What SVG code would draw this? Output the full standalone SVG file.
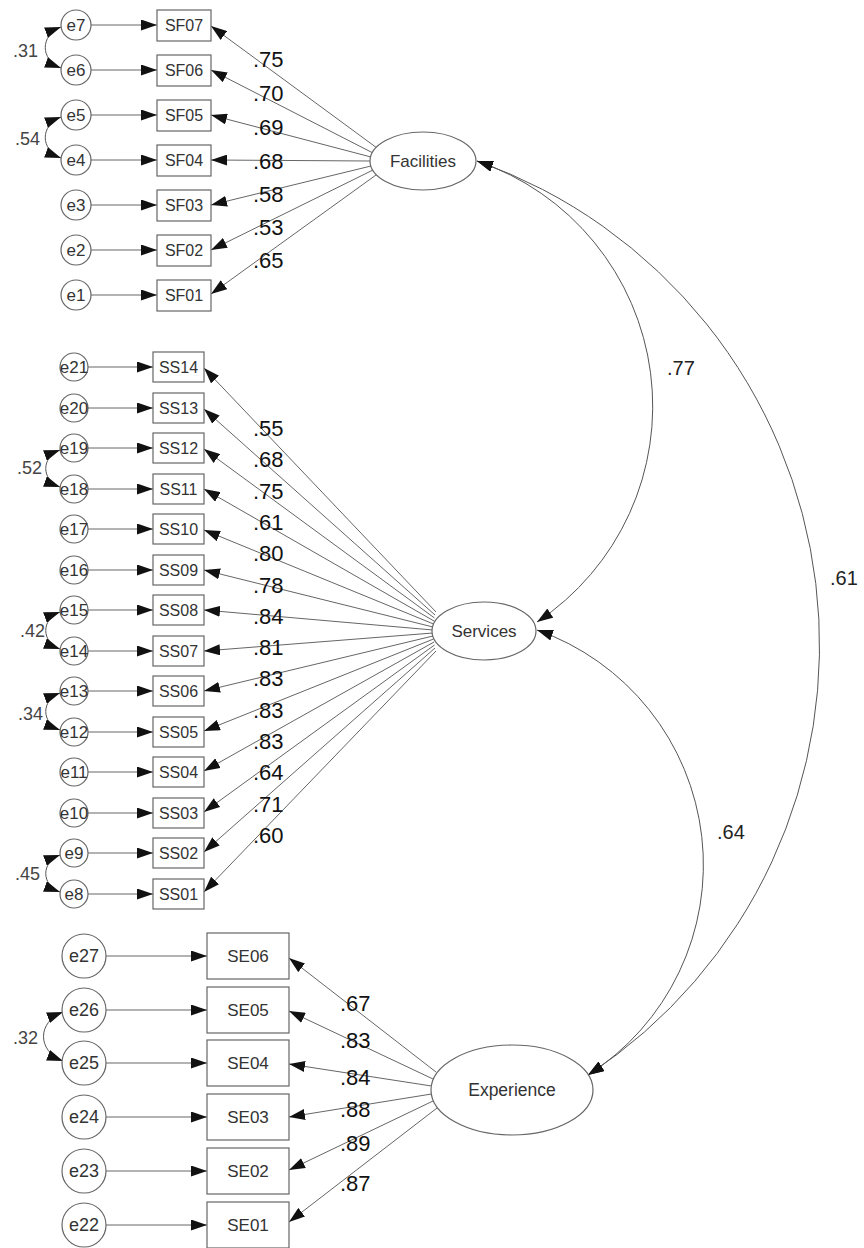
<svg xmlns="http://www.w3.org/2000/svg" width="864" height="1248" viewBox="0 0 864 1248">
<defs>
<marker id="ah" viewBox="0 0 16 11" refX="16" refY="5.5" markerWidth="16" markerHeight="11" markerUnits="userSpaceOnUse" orient="auto-start-reverse"><path d="M0,0 L16,5.5 L0,11 z" fill="#111"/></marker>
</defs>
<style>
.s{fill:#fff;stroke:#666;stroke-width:1.2}
.c{fill:none;stroke:#666;stroke-width:1}
.a{fill:none;stroke:#666;stroke-width:1;marker-end:url(#ah)}
.d{fill:none;stroke:#555;stroke-width:1;marker-start:url(#ah);marker-end:url(#ah)}
.t{font-family:"Liberation Sans",Arial,sans-serif;fill:#333;text-anchor:middle}
.v{font-family:"Liberation Sans",Arial,sans-serif;fill:#111;font-size:22px}
.w{font-family:"Liberation Sans",Arial,sans-serif;fill:#444;font-size:18px;text-anchor:end}
.r{font-family:"Liberation Sans",Arial,sans-serif;fill:#222;font-size:20px}
</style>
<rect width="864" height="1248" fill="#fff"/>

<g id="connectors">
<line class="a" x1="91" y1="25" x2="157" y2="25"/>
<line class="a" x1="91" y1="70" x2="157" y2="70"/>
<line class="a" x1="91" y1="115" x2="157" y2="115"/>
<line class="a" x1="91" y1="160" x2="157" y2="160"/>
<line class="a" x1="91" y1="205" x2="157" y2="205"/>
<line class="a" x1="91" y1="250" x2="157" y2="250"/>
<line class="a" x1="91" y1="295" x2="157" y2="295"/>
<line class="a" x1="377" y1="148" x2="211" y2="26"/>
<line class="a" x1="373" y1="153" x2="211" y2="70"/>
<line class="a" x1="371" y1="157" x2="211" y2="115"/>
<line class="a" x1="370" y1="161" x2="211" y2="160"/>
<line class="a" x1="371" y1="166" x2="211" y2="205"/>
<line class="a" x1="373" y1="170" x2="211" y2="250"/>
<line class="a" x1="376" y1="175" x2="211" y2="294"/>
<line class="a" x1="88" y1="367" x2="153" y2="367"/>
<line class="a" x1="88" y1="408" x2="153" y2="408"/>
<line class="a" x1="88" y1="448" x2="153" y2="448"/>
<line class="a" x1="88" y1="489" x2="153" y2="489"/>
<line class="a" x1="88" y1="529" x2="153" y2="529"/>
<line class="a" x1="88" y1="570" x2="153" y2="570"/>
<line class="a" x1="88" y1="610" x2="153" y2="610"/>
<line class="a" x1="88" y1="651" x2="153" y2="651"/>
<line class="a" x1="88" y1="691" x2="153" y2="691"/>
<line class="a" x1="88" y1="732" x2="153" y2="732"/>
<line class="a" x1="88" y1="772" x2="153" y2="772"/>
<line class="a" x1="88" y1="813" x2="153" y2="813"/>
<line class="a" x1="88" y1="853" x2="153" y2="853"/>
<line class="a" x1="88" y1="894" x2="153" y2="894"/>
<line class="a" x1="436" y1="612" x2="204" y2="368"/>
<line class="a" x1="435" y1="615" x2="204" y2="409"/>
<line class="a" x1="434.5" y1="618" x2="204" y2="449"/>
<line class="a" x1="434" y1="621" x2="204" y2="489"/>
<line class="a" x1="433.5" y1="624" x2="204" y2="530"/>
<line class="a" x1="433" y1="627" x2="204" y2="570"/>
<line class="a" x1="433" y1="630" x2="204" y2="610"/>
<line class="a" x1="433" y1="633" x2="204" y2="651"/>
<line class="a" x1="433" y1="636" x2="204" y2="691"/>
<line class="a" x1="433.5" y1="639" x2="204" y2="731"/>
<line class="a" x1="434" y1="642" x2="204" y2="771"/>
<line class="a" x1="434.5" y1="645" x2="204" y2="812"/>
<line class="a" x1="435" y1="648" x2="204" y2="852"/>
<line class="a" x1="436" y1="651" x2="204" y2="892"/>
<line class="a" x1="106" y1="956" x2="207" y2="956"/>
<line class="a" x1="106" y1="1010" x2="207" y2="1010"/>
<line class="a" x1="106" y1="1063" x2="207" y2="1063"/>
<line class="a" x1="106" y1="1117" x2="207" y2="1117"/>
<line class="a" x1="106" y1="1171" x2="207" y2="1171"/>
<line class="a" x1="106" y1="1225" x2="207" y2="1225"/>
<line class="a" x1="436" y1="1072" x2="289" y2="958"/>
<line class="a" x1="433" y1="1079" x2="289" y2="1011"/>
<line class="a" x1="431.5" y1="1086" x2="289" y2="1064"/>
<line class="a" x1="431.5" y1="1094" x2="289" y2="1117"/>
<line class="a" x1="433" y1="1101" x2="289" y2="1170"/>
<line class="a" x1="437" y1="1108" x2="289" y2="1222"/>
<path class="d" d="M61,27 C40,35 40,60 61,68"/>
<path class="d" d="M61,117 C40,125 40,150 61,158"/>
<path class="d" d="M60,450 C41,457 41,480 60,487"/>
<path class="d" d="M60,612 C41,619 41,642 60,649"/>
<path class="d" d="M60,693 C41,700 41,723 60,730"/>
<path class="d" d="M60,855 C41,862 41,885 60,892"/>
<path class="d" d="M63,1012 C37,1022 37,1051 63,1061"/>
<path class="d" d="M477,161 A259,259 0 0 1 537,622"/>
<path class="d" d="M477,161 A514,514 0 0 1 588,1075"/>
<path class="d" d="M537,630 A249,249 0 0 1 588,1075"/>
</g>

<g id="labels">
<text class="v" x="253" y="67">.75</text>
<text class="v" x="253" y="101">.70</text>
<text class="v" x="253" y="135">.69</text>
<text class="v" x="253" y="169">.68</text>
<text class="v" x="253" y="202">.58</text>
<text class="v" x="253" y="235">.53</text>
<text class="v" x="253" y="268">.65</text>
<text class="v" x="253" y="436">.55</text>
<text class="v" x="253" y="467.3">.68</text>
<text class="v" x="253" y="498.6">.75</text>
<text class="v" x="253" y="529.9">.61</text>
<text class="v" x="253" y="561.2">.80</text>
<text class="v" x="253" y="592.5">.78</text>
<text class="v" x="253" y="623.8">.84</text>
<text class="v" x="253" y="655.1">.81</text>
<text class="v" x="253" y="686.4">.83</text>
<text class="v" x="253" y="717.7">.83</text>
<text class="v" x="253" y="749">.83</text>
<text class="v" x="253" y="780.3">.64</text>
<text class="v" x="253" y="811.6">.71</text>
<text class="v" x="253" y="842.9">.60</text>
<text class="v" x="340" y="1011">.67</text>
<text class="v" x="340" y="1048">.83</text>
<text class="v" x="340" y="1085">.84</text>
<text class="v" x="340" y="1117">.88</text>
<text class="v" x="340" y="1151">.89</text>
<text class="v" x="340" y="1191">.87</text>
<text class="w" x="38" y="56.5">.31</text>
<text class="w" x="40" y="144.5">.54</text>
<text class="w" x="42" y="473.5">.52</text>
<text class="w" x="45" y="636.5">.42</text>
<text class="w" x="43" y="719.5">.34</text>
<text class="w" x="40" y="879.5">.45</text>
<text class="w" x="38" y="1043.5">.32</text>
<text class="r" x="667" y="375">.77</text>
<text class="r" x="830" y="585">.61</text>
<text class="r" x="717" y="839">.64</text>
</g>

<g id="Facilities"><ellipse class="s" cx="423" cy="161" rx="53" ry="29"/><text class="t" x="423" y="167" font-size="17">Facilities</text></g>
<g id="Services"><ellipse class="s" cx="484" cy="631" rx="52" ry="29"/><text class="t" x="484" y="637" font-size="17">Services</text></g>
<g id="Experience"><ellipse class="s" cx="512" cy="1090" rx="81" ry="45"/><text class="t" x="512" y="1096" font-size="17.5">Experience</text></g>

<g id="SF07"><rect class="s" x="157" y="10" width="54" height="31"/><text class="t" x="184" y="31" font-size="16">SF07</text></g>
<g id="SF06"><rect class="s" x="157" y="55" width="54" height="31"/><text class="t" x="184" y="76" font-size="16">SF06</text></g>
<g id="SF05"><rect class="s" x="157" y="100" width="54" height="31"/><text class="t" x="184" y="121" font-size="16">SF05</text></g>
<g id="SF04"><rect class="s" x="157" y="145" width="54" height="31"/><text class="t" x="184" y="166" font-size="16">SF04</text></g>
<g id="SF03"><rect class="s" x="157" y="190" width="54" height="31"/><text class="t" x="184" y="211" font-size="16">SF03</text></g>
<g id="SF02"><rect class="s" x="157" y="235" width="54" height="31"/><text class="t" x="184" y="256" font-size="16">SF02</text></g>
<g id="SF01"><rect class="s" x="157" y="280" width="54" height="31"/><text class="t" x="184" y="301" font-size="16">SF01</text></g>

<g id="e7"><circle class="s" cx="76" cy="25" r="15"/><text class="t" x="76" y="31" font-size="17">e7</text></g>
<g id="e6"><circle class="s" cx="76" cy="70" r="15"/><text class="t" x="76" y="76" font-size="17">e6</text></g>
<g id="e5"><circle class="s" cx="76" cy="115" r="15"/><text class="t" x="76" y="121" font-size="17">e5</text></g>
<g id="e4"><circle class="s" cx="76" cy="160" r="15"/><text class="t" x="76" y="166" font-size="17">e4</text></g>
<g id="e3"><circle class="s" cx="76" cy="205" r="15"/><text class="t" x="76" y="211" font-size="17">e3</text></g>
<g id="e2"><circle class="s" cx="76" cy="250" r="15"/><text class="t" x="76" y="256" font-size="17">e2</text></g>
<g id="e1"><circle class="s" cx="76" cy="295" r="15"/><text class="t" x="76" y="301" font-size="17">e1</text></g>

<g id="SS14"><rect class="s" x="153" y="352" width="51" height="30"/><text class="t" x="178.5" y="373" font-size="16">SS14</text></g>
<g id="SS13"><rect class="s" x="153" y="393" width="51" height="30"/><text class="t" x="178.5" y="414" font-size="16">SS13</text></g>
<g id="SS12"><rect class="s" x="153" y="433" width="51" height="30"/><text class="t" x="178.5" y="454" font-size="16">SS12</text></g>
<g id="SS11"><rect class="s" x="153" y="474" width="51" height="30"/><text class="t" x="178.5" y="495" font-size="16">SS11</text></g>
<g id="SS10"><rect class="s" x="153" y="514" width="51" height="30"/><text class="t" x="178.5" y="535" font-size="16">SS10</text></g>
<g id="SS09"><rect class="s" x="153" y="555" width="51" height="30"/><text class="t" x="178.5" y="576" font-size="16">SS09</text></g>
<g id="SS08"><rect class="s" x="153" y="595" width="51" height="30"/><text class="t" x="178.5" y="616" font-size="16">SS08</text></g>
<g id="SS07"><rect class="s" x="153" y="636" width="51" height="30"/><text class="t" x="178.5" y="657" font-size="16">SS07</text></g>
<g id="SS06"><rect class="s" x="153" y="676" width="51" height="30"/><text class="t" x="178.5" y="697" font-size="16">SS06</text></g>
<g id="SS05"><rect class="s" x="153" y="717" width="51" height="30"/><text class="t" x="178.5" y="738" font-size="16">SS05</text></g>
<g id="SS04"><rect class="s" x="153" y="757" width="51" height="30"/><text class="t" x="178.5" y="778" font-size="16">SS04</text></g>
<g id="SS03"><rect class="s" x="153" y="798" width="51" height="30"/><text class="t" x="178.5" y="819" font-size="16">SS03</text></g>
<g id="SS02"><rect class="s" x="153" y="838" width="51" height="30"/><text class="t" x="178.5" y="859" font-size="16">SS02</text></g>
<g id="SS01"><rect class="s" x="153" y="879" width="51" height="30"/><text class="t" x="178.5" y="900" font-size="16">SS01</text></g>

<g id="e21"><circle class="s" cx="74" cy="367" r="14"/><text class="t" x="74" y="373" font-size="17">e21</text></g>
<g id="e20"><circle class="s" cx="74" cy="408" r="14"/><text class="t" x="74" y="414" font-size="17">e20</text></g>
<g id="e19"><circle class="s" cx="74" cy="448" r="14"/><text class="t" x="74" y="454" font-size="17">e19</text></g>
<g id="e18"><circle class="s" cx="74" cy="489" r="14"/><text class="t" x="74" y="495" font-size="17">e18</text></g>
<g id="e17"><circle class="s" cx="74" cy="529" r="14"/><text class="t" x="74" y="535" font-size="17">e17</text></g>
<g id="e16"><circle class="s" cx="74" cy="570" r="14"/><text class="t" x="74" y="576" font-size="17">e16</text></g>
<g id="e15"><circle class="s" cx="74" cy="610" r="14"/><text class="t" x="74" y="616" font-size="17">e15</text></g>
<g id="e14"><circle class="s" cx="74" cy="651" r="14"/><text class="t" x="74" y="657" font-size="17">e14</text></g>
<g id="e13"><circle class="s" cx="74" cy="691" r="14"/><text class="t" x="74" y="697" font-size="17">e13</text></g>
<g id="e12"><circle class="s" cx="74" cy="732" r="14"/><text class="t" x="74" y="738" font-size="17">e12</text></g>
<g id="e11"><circle class="s" cx="74" cy="772" r="14"/><text class="t" x="74" y="778" font-size="17">e11</text></g>
<g id="e10"><circle class="s" cx="74" cy="813" r="14"/><text class="t" x="74" y="819" font-size="17">e10</text></g>
<g id="e9"><circle class="s" cx="74" cy="853" r="14"/><text class="t" x="74" y="859" font-size="17">e9</text></g>
<g id="e8"><circle class="s" cx="74" cy="894" r="14"/><text class="t" x="74" y="900" font-size="17">e8</text></g>

<g id="SE06"><rect class="s" x="207" y="933" width="82" height="46"/><text class="t" x="248" y="962" font-size="17">SE06</text></g>
<g id="SE05"><rect class="s" x="207" y="987" width="82" height="46"/><text class="t" x="248" y="1016" font-size="17">SE05</text></g>
<g id="SE04"><rect class="s" x="207" y="1040" width="82" height="46"/><text class="t" x="248" y="1069" font-size="17">SE04</text></g>
<g id="SE03"><rect class="s" x="207" y="1094" width="82" height="46"/><text class="t" x="248" y="1123" font-size="17">SE03</text></g>
<g id="SE02"><rect class="s" x="207" y="1148" width="82" height="46"/><text class="t" x="248" y="1177" font-size="17">SE02</text></g>
<g id="SE01"><rect class="s" x="207" y="1202" width="82" height="46"/><text class="t" x="248" y="1231" font-size="17">SE01</text></g>

<g id="e27"><circle class="s" cx="84" cy="956" r="22"/><text class="t" x="84" y="962" font-size="18">e27</text></g>
<g id="e26"><circle class="s" cx="84" cy="1010" r="22"/><text class="t" x="84" y="1016" font-size="18">e26</text></g>
<g id="e25"><circle class="s" cx="84" cy="1063" r="22"/><text class="t" x="84" y="1069" font-size="18">e25</text></g>
<g id="e24"><circle class="s" cx="84" cy="1117" r="22"/><text class="t" x="84" y="1123" font-size="18">e24</text></g>
<g id="e23"><circle class="s" cx="84" cy="1171" r="22"/><text class="t" x="84" y="1177" font-size="18">e23</text></g>
<g id="e22"><circle class="s" cx="84" cy="1225" r="22"/><text class="t" x="84" y="1231" font-size="18">e22</text></g>
</svg>
